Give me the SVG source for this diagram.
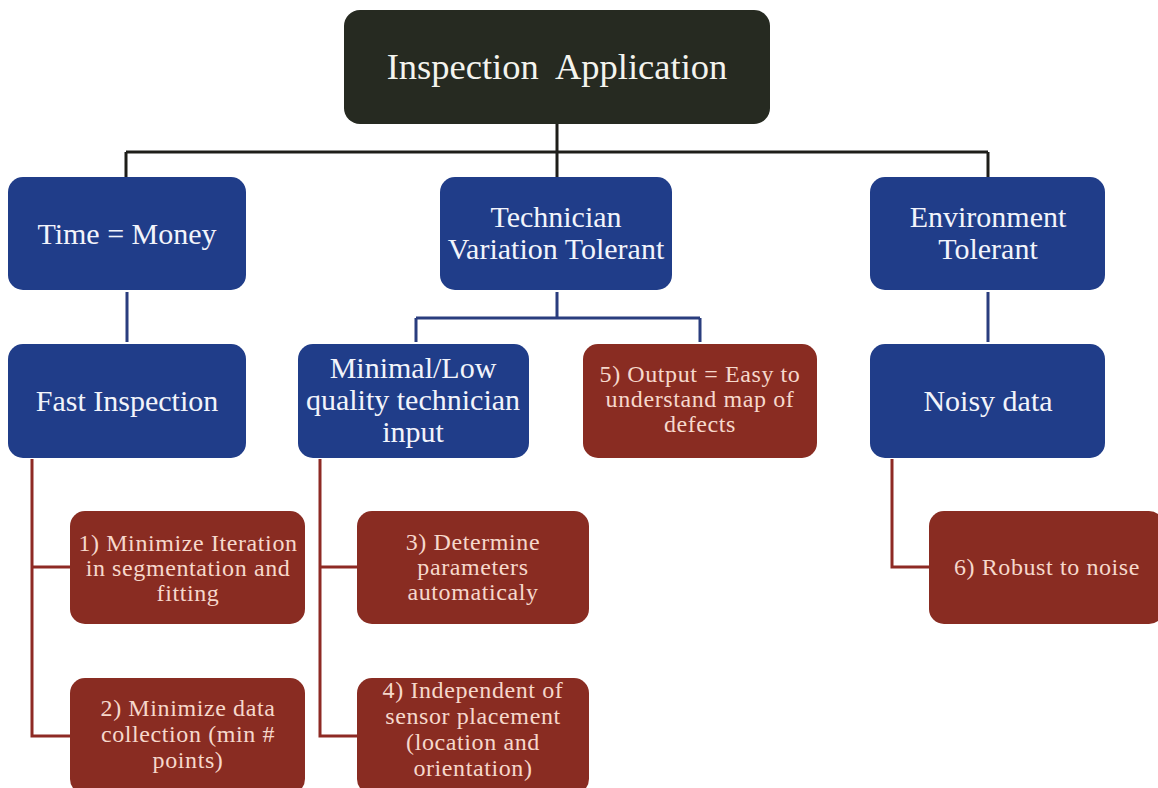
<svg xmlns="http://www.w3.org/2000/svg" width="1158" height="788" viewBox="0 0 1158 788">
<style>
.top{fill:#262a21}
.blue{fill:#203d89}
.red{fill:#892c22}
.tt{font-family:"Liberation Serif","Times New Roman",serif;font-size:36.5px;fill:#f4f4ee;text-anchor:middle;white-space:pre}
.bt{font-family:"Liberation Serif","Times New Roman",serif;font-size:30px;fill:#f2f4fb;text-anchor:middle}
.rt{font-family:"Liberation Serif","Times New Roman",serif;font-size:24px;fill:#f6d8cc;text-anchor:middle;letter-spacing:0.6px}
.ck{fill:none;stroke:#1e1e1a;stroke-width:3}
.cb{fill:none;stroke:#2a3d7e;stroke-width:3}
.cr{fill:none;stroke:#8e2a24;stroke-width:3}
</style>
<rect width="1158" height="788" fill="#ffffff"/>
<g id="connectors">
<path class="ck" d="M557,124 V177 M126,152 H988 M126,152 V177 M988,152 V177"/>
<path class="cb" d="M127,292 V342 M988,292 V342 M557,292 V318 M416,318 H700 M416,318 V342 M700,318 V342"/>
<path class="cr" d="M32,459 V736 H70 M32,567 H70 M320,459 V736 H357 M320,567 H357 M892,459 V567 H930"/>
</g>
<g id="inspection-application">
<rect class="top" x="344" y="10" width="426" height="114" rx="16"/>
<text class="tt" x="557" y="79">Inspection  Application</text>
</g>
<g id="time-money">
<rect class="blue" x="8" y="177" width="238" height="113" rx="15"/>
<text class="bt" x="127" y="244">Time = Money</text>
</g>
<g id="technician-variation">
<rect class="blue" x="440" y="177" width="232" height="113" rx="15"/>
<text class="bt" x="556" y="227">Technician</text>
<text class="bt" x="556" y="259">Variation Tolerant</text>
</g>
<g id="environment-tolerant">
<rect class="blue" x="870" y="177" width="235" height="113" rx="15"/>
<text class="bt" x="988" y="227">Environment</text>
<text class="bt" x="988" y="259">Tolerant</text>
</g>
<g id="fast-inspection">
<rect class="blue" x="8" y="344" width="238" height="114" rx="15"/>
<text class="bt" x="127" y="411">Fast Inspection</text>
</g>
<g id="minimal-input">
<rect class="blue" x="298" y="344" width="231" height="114" rx="15"/>
<text class="bt" x="413" y="378">Minimal/Low</text>
<text class="bt" x="413" y="410">quality technician</text>
<text class="bt" x="413" y="442">input</text>
</g>
<g id="output-map">
<rect class="red" x="583" y="344" width="234" height="114" rx="15"/>
<text class="rt" x="700" y="382">5) Output = Easy to</text>
<text class="rt" x="700" y="407">understand map of</text>
<text class="rt" x="700" y="432">defects</text>
</g>
<g id="noisy-data">
<rect class="blue" x="870" y="344" width="235" height="114" rx="15"/>
<text class="bt" x="988" y="411">Noisy data</text>
</g>
<g id="minimize-iteration">
<rect class="red" x="70" y="511" width="235" height="113" rx="15"/>
<text class="rt" x="188" y="551">1) Minimize Iteration</text>
<text class="rt" x="188" y="576">in segmentation  and</text>
<text class="rt" x="188" y="601">fitting</text>
</g>
<g id="minimize-data">
<rect class="red" x="70" y="678" width="235" height="116" rx="15"/>
<text class="rt" x="188" y="716">2) Minimize data</text>
<text class="rt" x="188" y="742">collection (min #</text>
<text class="rt" x="188" y="768">points)</text>
</g>
<g id="determine-parameters">
<rect class="red" x="357" y="511" width="232" height="113" rx="15"/>
<text class="rt" x="473" y="550">3) Determine</text>
<text class="rt" x="473" y="575">parameters</text>
<text class="rt" x="473" y="600">automaticaly</text>
</g>
<g id="independent-placement">
<rect class="red" x="357" y="678" width="232" height="116" rx="15"/>
<text class="rt" x="473" y="698">4) Independent of</text>
<text class="rt" x="473" y="724">sensor placement</text>
<text class="rt" x="473" y="750">(location and</text>
<text class="rt" x="473" y="776">orientation)</text>
</g>
<g id="robust-noise">
<rect class="red" x="929" y="511" width="235" height="113" rx="15"/>
<text class="rt" x="1047" y="575">6) Robust to noise</text>
</g>
</svg>
